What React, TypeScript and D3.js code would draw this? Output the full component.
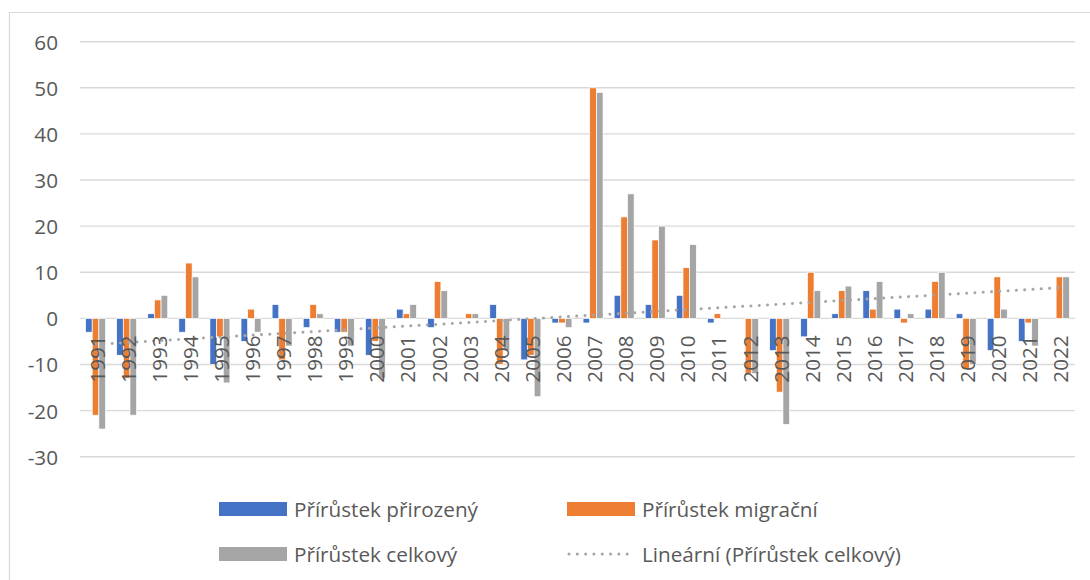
import React from "react";
import * as d3 from "d3";

const years = [
  "1991","1992","1993","1994","1995","1996","1997","1998","1999","2000",
  "2001","2002","2003","2004","2005","2006","2007","2008","2009","2010",
  "2011","2012","2013","2014","2015","2016","2017","2018","2019","2020",
  "2021","2022",
];
const natural = [-3,-8,1,-3,-10,-5,3,-2,-3,-8,2,-2,0,3,-9,-1,-1,5,3,5,-1,0,-7,-4,1,6,2,2,1,-7,-5,0];
const migration = [-21,-13,4,12,-4,2,-9,3,-3,-5,1,8,1,-10,-8,-1,50,22,17,11,1,-12,-16,10,6,2,-1,8,-11,9,-1,9];
const total = [-24,-21,5,9,-14,-3,-6,1,-6,-13,3,6,1,-7,-17,-2,49,27,20,16,0,-12,-23,6,7,8,1,10,-10,2,-6,9];
const yTicks = [60,50,40,30,20,10,0,-10,-20,-30];

const seriesNames = ["Přírůstek přirozený", "Přírůstek migrační", "Přírůstek celkový"];
const seriesColors = ["#4472C4", "#ED7D31", "#A5A5A5"];
const trendName = "Lineární (Přírůstek celkový)";

const FONT = "'Open Sans', 'Liberation Sans', sans-serif";
const TEXT = "#595959";
const GRID = "#D9D9D9";
const FS = 20.7;

export default function App() {
  const W = 1090, H = 580;
  const left = 80, right = 1075;
  const y = d3.scaleLinear().domain([-30, 60]).range([456.7, 41.7]);
  const x = d3.scaleBand<string>().domain(years).range([left, right]).paddingInner(0.357).paddingOuter(0.1785);
  const inner = d3.scaleBand<number>().domain([0, 1, 2]).range([0, x.bandwidth()]);
  const series = [natural, migration, total];

  // linear trend (least squares) of total
  const idx = total.map((_, i) => i + 1);
  const mx = d3.mean(idx)!;
  const my = d3.mean(total)!;
  const slope = d3.sum(idx, (v, i) => (v - mx) * (total[i] - my)) / d3.sum(idx, (v) => (v - mx) * (v - mx));
  const intercept = my - slope * mx;
  const trendPts: [number, number][] = years.map((yr, i) => [x(yr)! + x.bandwidth() / 2, y(intercept + slope * (i + 1))]);
  const line = d3.line();
  const trendSeg = [trendPts[0], trendPts[trendPts.length - 1]];

  const dotted = { stroke: "#A5A5A5", strokeWidth: 3, strokeLinecap: "round" as const, strokeDasharray: "0.01 8.3" };

  return (
    <svg width={W} height={H} style={{ position: "absolute", left: 0, top: 0, background: "#fff" }} fontFamily={FONT}>
      <rect x={0} y={0} width={W} height={H} fill="#fff" />
      <path d={`M9.5,${H + 5}V12.5H${W + 5}`} fill="none" stroke={GRID} strokeWidth={1.2} />
      {yTicks.map((t) => (
        <g key={t}>
          <line x1={left} x2={right} y1={y(t)} y2={y(t)} stroke={GRID} strokeWidth={1.4} />
          <text x={58} y={y(t)} textAnchor="end" dominantBaseline="central" fontSize={FS} fill={TEXT}>{t}</text>
        </g>
      ))}
      {series.map((vals, s) => (
        <g key={s}>
          {vals.map((v, i) => (
            <rect
              key={i}
              x={x(years[i])! + inner(s)!}
              y={Math.min(y(v), y(0))}
              width={inner.bandwidth()}
              height={Math.abs(y(v) - y(0))}
              fill={seriesColors[s]}
              stroke="#fff"
              strokeWidth={0.7}
            />
          ))}
        </g>
      ))}
      <path d={line(trendSeg)!} fill="none" {...dotted} />
      {years.map((yr) => {
        const cx = x(yr)! + x.bandwidth() / 2 + 1;
        const cy = y(0) + 17;
        return (
          <text key={yr} transform={`translate(${cx},${cy}) rotate(-90)`} textAnchor="end" dominantBaseline="central" fontSize={FS} fill={TEXT}>
            {yr}
          </text>
        );
      })}
      {/* legend */}
      {[
        { kind: "bar", i: 0, x: 219, y: 509 },
        { kind: "bar", i: 1, x: 567, y: 509 },
        { kind: "bar", i: 2, x: 219, y: 554 },
        { kind: "trend", i: 3, x: 567, y: 554 },
      ].map((it) => (
        <g key={it.i}>
          {it.kind === "bar" ? (
            <rect x={it.x} y={it.y - 7} width={68} height={14} fill={seriesColors[it.i]} />
          ) : (
            <path d={`M${it.x + 2},${it.y}H${it.x + 68}`} fill="none" {...dotted} />
          )}
          <text x={it.x + 75} y={it.y} dominantBaseline="central" fontSize={FS} fill={TEXT}>
            {it.kind === "bar" ? seriesNames[it.i] : trendName}
          </text>
        </g>
      ))}
    </svg>
  );
}
